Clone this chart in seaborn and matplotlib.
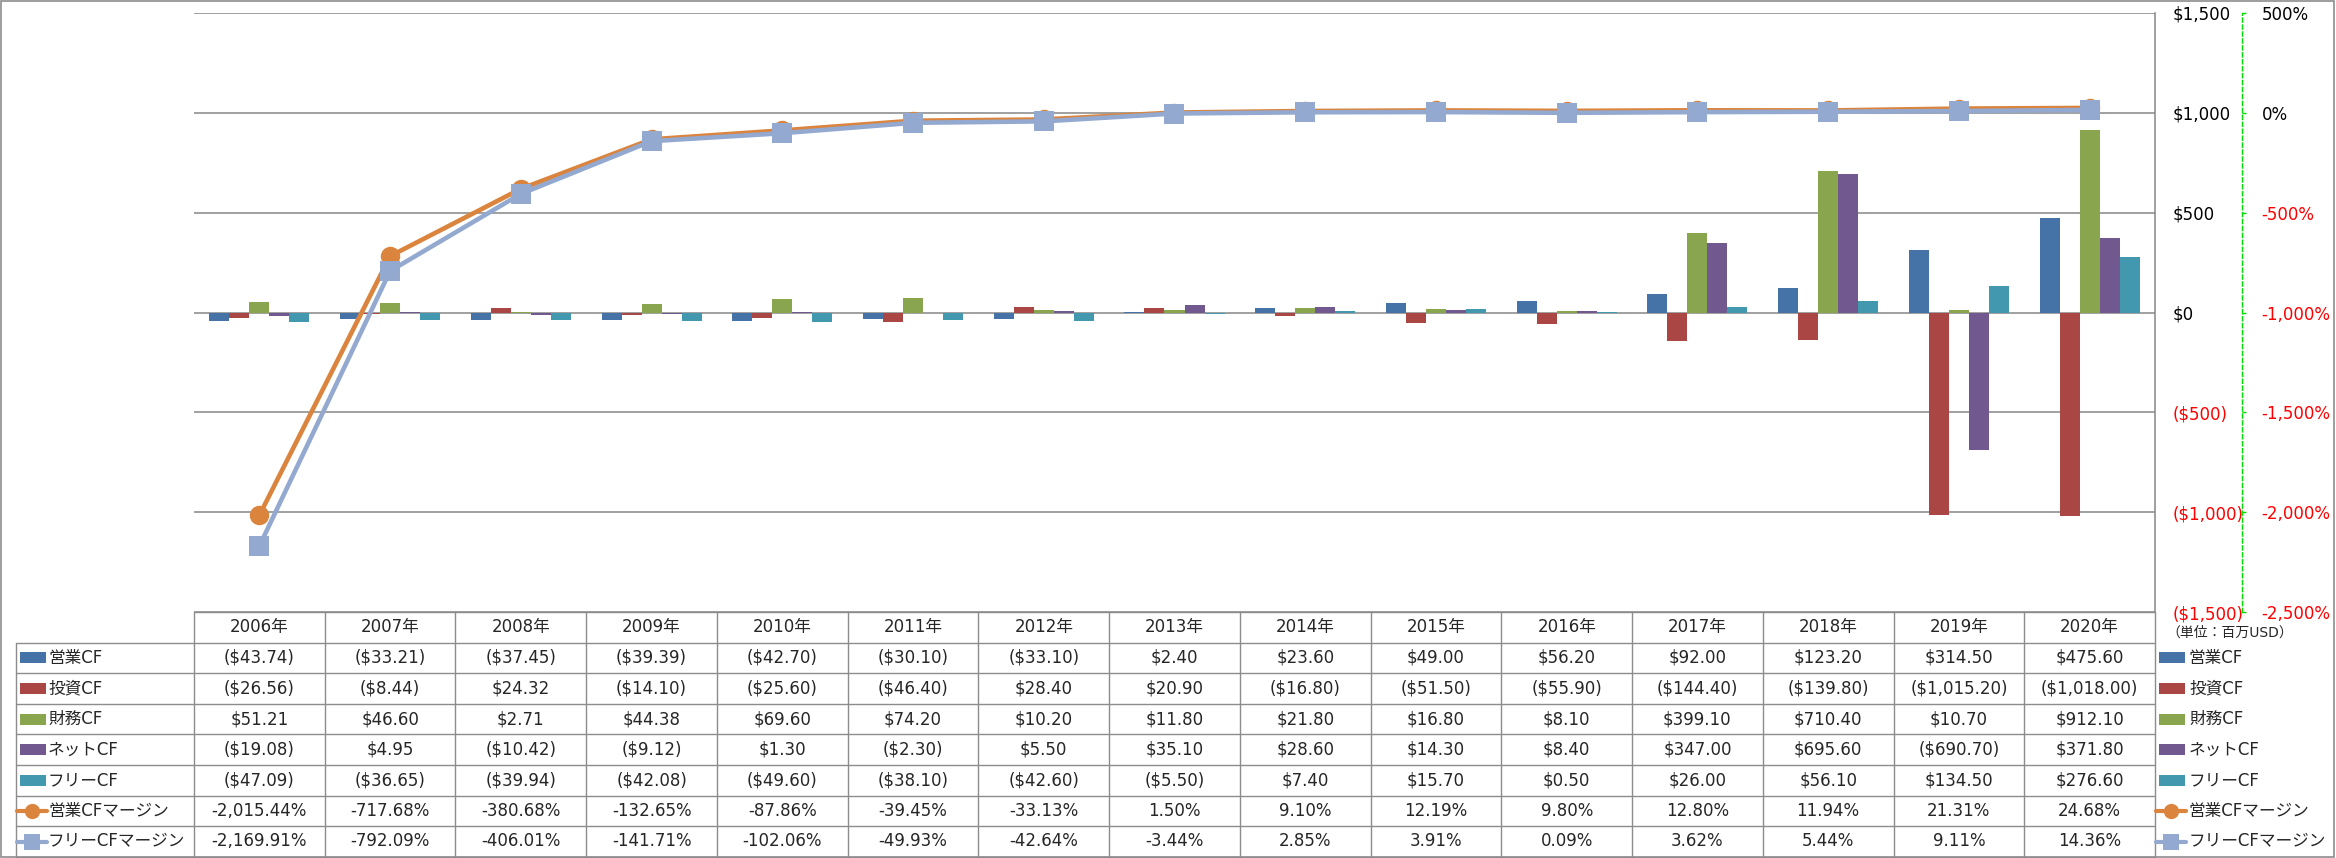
import numpy as np
import pandas as pd
import seaborn as sns
import matplotlib.pyplot as plt
from matplotlib.patches import Rectangle
from matplotlib.lines import Line2D

sns.set_style("white")
plt.rcParams["font.family"] = ["DejaVu Sans", "Noto Sans CJK JP"]

years = ["2006年", "2007年", "2008年", "2009年", "2010年", "2011年", "2012年", "2013年",
         "2014年", "2015年", "2016年", "2017年", "2018年", "2019年", "2020年"]

op_cf = [-43.74, -33.21, -37.45, -39.39, -42.70, -30.10, -33.10, 2.40,
         23.60, 49.00, 56.20, 92.00, 123.20, 314.50, 475.60]
inv_cf = [-26.56, -8.44, 24.32, -14.10, -25.60, -46.40, 28.40, 20.90,
          -16.80, -51.50, -55.90, -144.40, -139.80, -1015.20, -1018.00]
fin_cf = [51.21, 46.60, 2.71, 44.38, 69.60, 74.20, 10.20, 11.80,
          21.80, 16.80, 8.10, 399.10, 710.40, 10.70, 912.10]
net_cf = [-19.08, 4.95, -10.42, -9.12, 1.30, -2.30, 5.50, 35.10,
          28.60, 14.30, 8.40, 347.00, 695.60, -690.70, 371.80]
free_cf = [-47.09, -36.65, -39.94, -42.08, -49.60, -38.10, -42.60, -5.50,
           7.40, 15.70, 0.50, 26.00, 56.10, 134.50, 276.60]

op_margin = [-2015.44, -717.68, -380.68, -132.65, -87.86, -39.45, -33.13, 1.50,
             9.10, 12.19, 9.80, 12.80, 11.94, 21.31, 24.68]
free_margin = [-2169.91, -792.09, -406.01, -141.71, -102.06, -49.93, -42.64, -3.44,
               2.85, 3.91, 0.09, 3.62, 5.44, 9.11, 14.36]

bar_names = ["営業CF", "投資CF", "財務CF", "ネットCF", "フリーCF"]
line_names = ["営業CFマージン", "フリーCFマージン"]
bar_colors = ["#4572A7", "#AA4643", "#89A54E", "#71588F", "#4198AF"]
line_colors = ["#DB843D", "#93A9CF"]

bars = pd.DataFrame({
    "year": years * 5,
    "series": np.repeat(bar_names, len(years)),
    "value": op_cf + inv_cf + fin_cf + net_cf + free_cf,
})
lines = pd.DataFrame({
    "year": years * 2,
    "series": np.repeat(line_names, len(years)),
    "margin": op_margin + free_margin,
})

W, H = 2336, 858
plot_left, plot_right, plot_top, plot_bottom = 194, 2155, 13, 612
grid_col = "#868686"
fs = 12

fig = plt.figure(figsize=(W / 100, H / 100), dpi=100)
ax = fig.add_axes([plot_left / W, 1 - plot_bottom / H,
                   (plot_right - plot_left) / W, (plot_bottom - plot_top) / H])

sns.barplot(data=bars, x="year", y="value", hue="series", hue_order=bar_names,
            palette=bar_colors, width=0.765, saturation=1, errorbar=None,
            legend=False, ax=ax, zorder=2, linewidth=0)

ax2 = ax.twinx()
sns.lineplot(data=lines, x="year", y="margin", hue="series", style="series",
             hue_order=line_names, style_order=line_names, markers=["o", "s"],
             dashes=False, palette=line_colors, linewidth=3.3, markersize=14,
             markeredgewidth=0, sort=False, legend=False, ax=ax2)

# primary axis ($)
ax.set_xlim(-0.5, len(years) - 0.5)
ax.set_ylim(-1500, 1500)
yt = list(range(-1500, 1501, 500))
ax.set_yticks(yt, labels=[f"${v:,}" if v >= 0 else f"(${-v:,})" for v in yt])
ax.yaxis.tick_right()
ax.tick_params(axis="y", length=0, pad=13, labelsize=fs)
for lab, v in zip(ax.get_yticklabels(), yt):
    lab.set_color("red" if v < 0 else "black")
ax.grid(axis="y", color=grid_col, lw=1.1)
ax.set_axisbelow(True)
ax.set_xticks([])
ax.set_xlabel("")
ax.set_ylabel("")
for s in ["left", "top", "bottom"]:
    ax.spines[s].set_visible(False)
ax.spines["right"].set_color(grid_col)
ax.spines["right"].set_linewidth(1.1)

# secondary axis (%)
ax2.set_ylim(-2500, 500)
pt = list(range(-2500, 501, 500))
ax2.set_yticks(pt, labels=[f"{v:,}%" for v in pt])
for s in ["left", "top", "bottom"]:
    ax2.spines[s].set_visible(False)
ax2.spines["right"].set_position(("outward", 87 * 0.72))
ax2.spines["right"].set_color("#00DD00")
ax2.spines["right"].set_linestyle((0, (3, 2)))
ax2.spines["right"].set_linewidth(1.0)
ax2.tick_params(axis="y", colors="#00DD00", length=3, width=1, pad=11, labelsize=fs)
for lab, v in zip(ax2.get_yticklabels(), pt):
    lab.set_color("red" if v < 0 else "black")
ax2.set_ylabel("")
ax2.set_xlabel("")
ax2.set_xticks([])

# data table under the chart
ov = fig.add_axes([0, 0, 1, 1], zorder=5)
ov.set_xlim(0, W)
ov.set_ylim(H, 0)
ov.axis("off")
ov.patch.set_alpha(0)

ncol = len(years)
col_w = (plot_right - plot_left) / ncol
row_h = 30.6
tab_top = plot_bottom
label_left = 16
rows = [op_cf, inv_cf, fin_cf, net_cf, free_cf, op_margin, free_margin]
names = bar_names + line_names
colors = bar_colors + line_colors
lc = dict(color="#8C8C8C", lw=1.0)


def money(v):
    return f"${v:,.2f}" if v >= 0 else f"(${-v:,.2f})"


def pct(v):
    return f"{v:,.2f}%"


# grid lines
ov.plot([plot_left, plot_right], [tab_top, tab_top], **lc)
for k in range(1, len(rows) + 2):
    y = tab_top + k * row_h
    ov.plot([label_left, plot_right], [y, y], **lc)
for i in range(ncol + 1):
    x = plot_left + i * col_w
    ov.plot([x, x], [tab_top, tab_top + (len(rows) + 1) * row_h], **lc)
ov.plot([label_left, label_left], [tab_top + row_h, tab_top + (len(rows) + 1) * row_h], **lc)

# header
for i, yr in enumerate(years):
    ov.text(plot_left + (i + 0.5) * col_w, tab_top + 0.5 * row_h, yr,
            ha="center", va="center", fontsize=fs)

# body
for r, (vals, name, c) in enumerate(zip(rows, names, colors)):
    yc = tab_top + (r + 1.5) * row_h
    fmt = money if r < 5 else pct
    for i, v in enumerate(vals):
        ov.text(plot_left + (i + 0.5) * col_w, yc, fmt(v),
                ha="center", va="center", fontsize=fs)
    for kx, tx in [(20, 48), (2159, 2189)]:
        if r < 5:
            ov.add_patch(Rectangle((kx, yc - 5.5), 26, 11, color=c, lw=0))
        else:
            mk = "o" if r == 5 else "s"
            ov.add_line(Line2D([kx - 3, kx + 27], [yc, yc], color=c, lw=3))
            ov.plot([kx + 12], [yc], marker=mk, color=c, markersize=11, mew=0)
        ov.text(tx, yc, name, ha="left", va="center", fontsize=fs)

ov.text(2166, tab_top + 21, "（単位：百万USD）", ha="left", va="center", fontsize=10)

# outer frame
ov.add_patch(Rectangle((1, 1), W - 3, H - 2, fill=False, ec="#8C8C8C", lw=1.2))

plt.savefig("out.png", dpi=100)
